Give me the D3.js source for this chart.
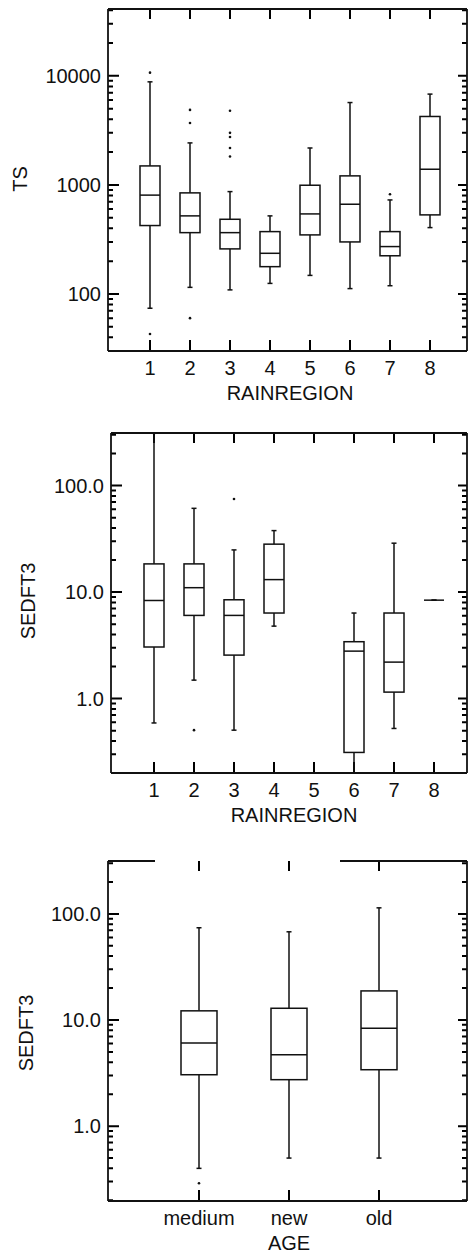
<!DOCTYPE html>
<html>
<head>
<meta charset="utf-8">
<script src="https://cdn.jsdelivr.net/npm/d3@7/dist/d3.min.js"></script>
<style>
  html, body { margin: 0; padding: 0; background: #fff; }
  svg { display: block; }
  text { font-family: "Liberation Sans", Arial, sans-serif; fill: #111; }
</style>
</head>
<body>
<svg id="chart" width="468" height="1258"></svg>
<script>
// ---- TS by rain region ----
const rainRegions = [1, 2, 3, 4, 5, 6, 7, 8];
const tsLow      = [74, 115, 109, 125, 148, 112, 119, 406];
const tsQ1       = [424, 365, 259, 178, 348, 300, 224, 531];
const tsMedian   = [806, 520, 365, 236, 542, 665, 272, 1392];
const tsQ3       = [1493, 845, 484, 373, 993, 1210, 373, 4240];
const tsHigh     = [8810, 2427, 868, 520, 2180, 5690, 728, 6800];
const tsOutliers = [[43, 10700], [60, 3700, 4870], [1820, 2180, 2750, 3000, 4780], [], [], [], [820], []];
const tsTicks    = [100, 1000, 10000];

// ---- SEDFT3 by rain region (region 5 has no data) ----
const sedLow      = [0.59, 1.49, 0.505, 4.79, null, 0.2, 0.524, 8.4];
const sedQ1       = [3.05, 6.04, 2.56, 6.36, null, 0.312, 1.15, 8.4];
const sedMedian   = [8.34, 11.0, 6.04, 13.1, null, 2.79, 2.2, 8.4];
const sedQ3       = [18.4, 18.4, 8.47, 28.2, null, 3.42, 6.36, 8.4];
const sedHigh     = [310, 61.2, 24.9, 37.8, null, 6.36, 28.8, 8.4];
const sedOutliers = [[], [0.505], [74.8], [], [], [], [], []];
const sedTicks    = [1, 10, 100];

// ---- SEDFT3 by age ----
const ageGroups   = ["medium", "new", "old"];
const ageLow      = [0.40, 0.50, 0.50];
const ageQ1       = [3.05, 2.74, 3.40];
const ageMedian   = [6.07, 4.71, 8.36];
const ageQ3       = [12.2, 12.9, 18.8];
const ageHigh     = [74, 67.8, 114];
const ageOutliers = [[0.29], [], []];

const svg = d3.select("#chart");
const INK = "#111";

function seg(sel, x1, y1, x2, y2) {
  return sel.append("line").attr("x1", x1).attr("y1", y1).attr("x2", x2).attr("y2", y2);
}

function drawPanel(cfg) {
  const g = svg.append("g");
  const fr = cfg.frame;

  const x = d3.scaleLinear().domain(cfg.xDomain).range(cfg.xRange);
  const y = d3.scaleLog().domain(cfg.yDomain).range([fr.bottom, fr.top]);

  const clipId = "clip-" + cfg.id;
  svg.append("defs").append("clipPath").attr("id", clipId)
    .append("rect").attr("x", fr.left).attr("y", fr.top)
    .attr("width", fr.right - fr.left).attr("height", fr.bottom - fr.top);

  // log ticks: labelled decades plus 2..9 minor ticks in between
  const minors = y.ticks(20).filter(v => !cfg.yTicks.some(t => Math.abs(t - v) / t < 1e-9));
  const xPos = cfg.categories.map((c, i) => i + 1);

  // inward tick marks on all four sides, drawn as one path
  const p = d3.path();
  cfg.yTicks.forEach(v => {
    p.moveTo(fr.left, y(v)); p.lineTo(fr.left + 11, y(v));
    p.moveTo(fr.right, y(v)); p.lineTo(fr.right - 9, y(v));
  });
  minors.forEach(v => {
    p.moveTo(fr.left, y(v)); p.lineTo(fr.left + 5, y(v));
    p.moveTo(fr.right, y(v)); p.lineTo(fr.right - 5, y(v));
  });
  xPos.forEach(v => {
    p.moveTo(x(v), fr.bottom); p.lineTo(x(v), fr.bottom - 11);
    p.moveTo(x(v), fr.top); p.lineTo(x(v), fr.top + 10);
  });
  g.append("path").attr("d", p.toString())
    .attr("fill", "none").attr("stroke", "#000").attr("stroke-width", 2);

  // tick labels
  cfg.yTicks.forEach(v =>
    g.append("text").attr("x", fr.left - 7).attr("y", y(v)).attr("dy", "0.35em")
      .attr("text-anchor", "end").attr("font-size", 20).text(cfg.yFormat(v)));
  xPos.forEach((v, i) =>
    g.append("text").attr("x", x(v)).attr("y", fr.bottom + 24)
      .attr("text-anchor", "middle").attr("font-size", 20).text(cfg.categories[i]));

  // frame
  const frame = g.append("g").attr("stroke", INK).attr("stroke-width", 1.8).attr("fill", "none");
  seg(frame, fr.left, fr.top, fr.left, fr.bottom);
  seg(frame, fr.right, fr.top, fr.right, fr.bottom);
  seg(frame, fr.left, fr.bottom, fr.right, fr.bottom);
  cfg.topSegments.forEach(([a, b]) => seg(frame, a, fr.top, b, fr.top));

  // box plots
  const boxes = g.append("g").attr("clip-path", `url(#${clipId})`)
    .attr("stroke", INK).attr("stroke-width", 1.5).attr("fill", "none");
  cfg.categories.forEach((c, i) => {
    if (cfg.median[i] == null) return;
    const cx = x(i + 1);
    const x0 = x(i + 1 - cfg.halfWidth), x1 = x(i + 1 + cfg.halfWidth);
    const yq1 = y(cfg.q1[i]), yq3 = y(cfg.q3[i]);
    const yHi = y(cfg.high[i]), yLo = y(cfg.low[i]);
    const b = boxes.append("g");
    seg(b, cx, yq3, cx, yHi);
    seg(b, cx, yq1, cx, yLo);
    seg(b, cx - 2.5, yHi, cx + 2.5, yHi);
    seg(b, cx - 2.5, yLo, cx + 2.5, yLo);
    b.append("rect").attr("x", x0).attr("y", yq3).attr("width", x1 - x0)
      .attr("height", Math.max(0, yq1 - yq3)).attr("fill", "#fff");
    seg(b, x0, y(cfg.median[i]), x1, y(cfg.median[i]));
    cfg.outliers[i].forEach(v =>
      b.append("circle").attr("cx", cx).attr("cy", y(v)).attr("r", 1.3)
        .attr("fill", INK).attr("stroke", "none"));
  });

  // axis titles
  g.append("text").attr("x", x(cfg.xTitlePos)).attr("y", fr.bottom + 49)
    .attr("text-anchor", "middle").attr("font-size", 20).text(cfg.xTitle);
  g.append("text")
    .attr("transform", `translate(${cfg.yTitleX},${cfg.yTitleY}) rotate(-90)`)
    .attr("text-anchor", "middle").attr("dy", "0.35em")
    .attr("font-size", 20).text(cfg.yTitle);
}

drawPanel({
  id: "ts",
  frame: { left: 108, right: 467, top: 9, bottom: 351 },
  xDomain: [0, 9], xRange: [110, 470],
  yDomain: [30, 41000], yTicks: tsTicks, yFormat: d3.format("d"),
  categories: rainRegions.map(String), halfWidth: 0.25,
  low: tsLow, q1: tsQ1, median: tsMedian, q3: tsQ3, high: tsHigh, outliers: tsOutliers,
  topSegments: [[108, 467]],
  xTitle: "RAINREGION", xTitlePos: 4.5,
  yTitle: "TS", yTitleX: 20, yTitleY: 179
});

drawPanel({
  id: "sed",
  frame: { left: 111, right: 467, top: 433, bottom: 773 },
  xDomain: [0, 9], xRange: [114, 474],
  yDomain: [0.2, 312], yTicks: sedTicks, yFormat: d3.format(".1f"),
  categories: rainRegions.map(String), halfWidth: 0.25,
  low: sedLow, q1: sedQ1, median: sedMedian, q3: sedQ3, high: sedHigh, outliers: sedOutliers,
  topSegments: [[111, 467]],
  xTitle: "RAINREGION", xTitlePos: 4.5,
  yTitle: "SEDFT3", yTitleX: 28, yTitleY: 601
});

drawPanel({
  id: "age",
  frame: { left: 108, right: 467, top: 861, bottom: 1201 },
  xDomain: [0, 4], xRange: [109, 469],
  yDomain: [0.197, 315], yTicks: sedTicks, yFormat: d3.format(".1f"),
  categories: ageGroups, halfWidth: 0.2,
  low: ageLow, q1: ageQ1, median: ageMedian, q3: ageQ3, high: ageHigh, outliers: ageOutliers,
  topSegments: [[108, 155], [340, 467]],
  xTitle: "AGE", xTitlePos: 2,
  yTitle: "SEDFT3", yTitleX: 26, yTitleY: 1033
});
</script>
</body>
</html>
